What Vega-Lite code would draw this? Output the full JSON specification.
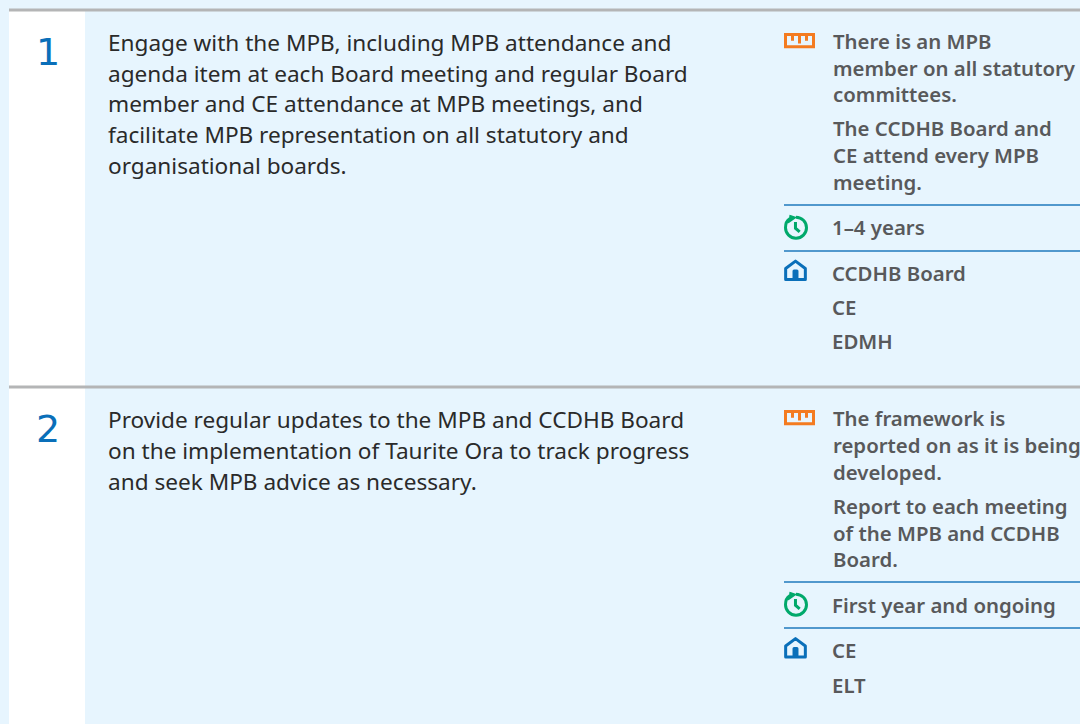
{
"$schema":"https://vega.github.io/schema/vega-lite/v6.json",
"autosize":"none",
"width":1080,"height":724,"padding":0,
"background":"#e7f5fe",
"config":{"view":{"stroke":null}},
"datasets":{
"bands":[{"x0":9,"x1":85,"y0":10,"y1":724}],
"rules":[
{"kind":"section","x0":9,"x1":1080,"y":10},
{"kind":"section","x0":9,"x1":1080,"y":387},
{"kind":"item","x0":784,"x1":1080,"y":205},
{"kind":"item","x0":784,"x1":1080,"y":251},
{"kind":"item","x0":784,"x1":1080,"y":582},
{"kind":"item","x0":784,"x1":1080,"y":628}
],
"numbers":[{"x":48,"y":65,"t":"1"},{"x":48,"y":442,"t":"2"}],
"desc":[
{"x":108,"y":51,"t":"Engage with the MPB, including MPB attendance and"},
{"x":108,"y":82,"t":"agenda item at each Board meeting and regular Board"},
{"x":108,"y":112,"t":"member and CE attendance at MPB meetings, and"},
{"x":108,"y":143,"t":"facilitate MPB representation on all statutory and"},
{"x":108,"y":174,"t":"organisational boards."},
{"x":108,"y":428,"t":"Provide regular updates to the MPB and CCDHB Board"},
{"x":108,"y":459,"t":"on the implementation of Taurite Ora to track progress"},
{"x":108,"y":490,"t":"and seek MPB advice as necessary."}
],
"right":[
{"x":833,"y":49,"t":"There is an MPB"},
{"x":833,"y":76,"t":"member on all statutory"},
{"x":833,"y":102,"t":"committees."},
{"x":833,"y":136,"t":"The CCDHB Board and"},
{"x":833,"y":163,"t":"CE attend every MPB"},
{"x":833,"y":190,"t":"meeting."},
{"x":832,"y":235,"t":"1–4 years"},
{"x":832,"y":281,"t":"CCDHB Board"},
{"x":832,"y":315,"t":"CE"},
{"x":832,"y":349,"t":"EDMH"},
{"x":833,"y":426,"t":"The framework is"},
{"x":833,"y":453,"t":"reported on as it is being"},
{"x":833,"y":480,"t":"developed."},
{"x":833,"y":514,"t":"Report to each meeting"},
{"x":833,"y":541,"t":"of the MPB and CCDHB"},
{"x":833,"y":567,"t":"Board."},
{"x":832,"y":613,"t":"First year and ongoing"},
{"x":832,"y":658,"t":"CE"},
{"x":832,"y":693,"t":"ELT"}
],
"ruler":[{"x":799.5,"y":40.7,"k":"ruler"},{"x":799.5,"y":417.7,"k":"ruler"}],
"clock":[{"x":796,"y":227.7,"k":"clock"},{"x":796,"y":604.7,"k":"clock"}],
"house":[{"x":795.5,"y":270.5,"k":"house"},{"x":795.5,"y":648,"k":"house"}]
},
"encoding":{
"x":{"field":"x","type":"quantitative","scale":{"domain":[0,1080],"nice":false,"zero":false},"axis":null},
"y":{"field":"y","type":"quantitative","scale":{"domain":[0,724],"nice":false,"zero":false,"reverse":true},"axis":null}
},
"layer":[
{"data":{"name":"bands"},"mark":{"type":"rect","fill":"#ffffff"},
 "encoding":{"x":{"field":"x0","type":"quantitative","scale":{"domain":[0,1080],"nice":false,"zero":false},"axis":null},"x2":{"field":"x1"},
 "y":{"field":"y0","type":"quantitative","scale":{"domain":[0,724],"nice":false,"zero":false,"reverse":true},"axis":null},"y2":{"field":"y1"}}},
{"data":{"name":"rules"},"transform":[{"filter":"datum.kind==='section'"}],"mark":{"type":"rule","stroke":"#b4b5b6","strokeWidth":3},
 "encoding":{"x":{"field":"x0","type":"quantitative","scale":{"domain":[0,1080],"nice":false,"zero":false},"axis":null},"x2":{"field":"x1"}}},
{"data":{"name":"rules"},"transform":[{"filter":"datum.kind==='item'"}],"mark":{"type":"rule","stroke":"#1f78bd","strokeWidth":1.3},
 "encoding":{"x":{"field":"x0","type":"quantitative","scale":{"domain":[0,1080],"nice":false,"zero":false},"axis":null},"x2":{"field":"x1"}}},
{"data":{"name":"numbers"},"mark":{"type":"text","font":"DejaVu Sans","fontSize":38,"fill":"#0a6fb9","align":"center","baseline":"alphabetic"},"encoding":{"text":{"field":"t"}}},
{"data":{"name":"desc"},"mark":{"type":"text","font":"Noto Sans","fontSize":22.6,"fill":"#2a2a2a","align":"left","baseline":"alphabetic"},"encoding":{"text":{"field":"t"}}},
{"data":{"name":"right"},"mark":{"type":"text","font":"Noto Sans","fontSize":20.4,"fontWeight":600,"fill":"#58595b","align":"left","baseline":"alphabetic"},"encoding":{"text":{"field":"t"}}},
{"data":{"name":"ruler"},"mark":{"type":"point","filled":false,"stroke":"#f47b20","strokeWidth":3,"opacity":1,"size":784,"shape":"M-1 -0.44L1 -0.44L1 0.44L-1 0.44ZM-0.5 -0.44L-0.5 0M0 -0.44L0 0.2M0.5 -0.44L0.5 0"}},
{"data":{"name":"clock"},"mark":{"type":"point","filled":false,"stroke":"#00a96b","strokeWidth":3,"opacity":1,"size":441,"shape":"M0 -1C.5523 -1 1 -.5523 1 0C1 .5523 .5523 1 0 1C-.5523 1 -1 .5523 -1 0C-1 -.4 -.85 -.7 -.6 -.85M-.5 -1.05L-.2 -.95L-.55 -.7ZM-.05 -.55L-.05 .05L.35 .4"}},
{"data":{"name":"house"},"mark":{"type":"point","filled":false,"stroke":"#0a6fb9","strokeWidth":3,"opacity":1,"size":388,"strokeJoin":"round","shape":"M-1 -.2L0 -.95L1 -.2L1 .91L-1 .91ZM-.15 .91L-.15 .05L.15 .05L.15 .91Z"}}
]
}
